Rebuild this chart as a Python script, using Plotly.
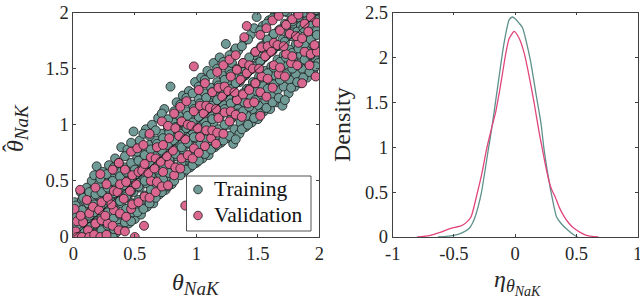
import plotly.graph_objects as go

# ---------------- scatter data ----------------
train_x = [
 0.01,0.00,0.02,0.01,0.03,0.04,
 0.05,0.06,0.05,0.07,0.04,0.06,
 0.10,0.11,0.09,0.12,0.10,0.11,
 0.15,0.16,0.14,0.15,0.17,0.16,0.15,
 0.20,0.21,0.19,0.22,0.20,0.21,0.19,
 0.25,0.26,0.24,0.26,0.25,0.27,0.24,
 0.30,0.31,0.29,0.31,0.30,0.32,0.29,
 0.35,0.36,0.34,0.36,0.35,0.37,0.34,
 0.40,0.41,0.39,0.41,0.40,0.42,0.39,
 0.45,0.46,0.44,0.46,0.45,0.47,0.44,
 0.50,0.51,0.49,0.51,0.50,0.52,0.49,
 0.55,0.56,0.54,0.56,0.55,0.57,0.54,
 0.60,0.61,0.59,0.61,0.60,0.62,0.59,
 0.65,0.66,0.64,0.66,0.65,0.67,0.64,
 0.70,0.71,0.69,0.71,0.70,0.72,0.69,
 0.75,0.76,0.74,0.76,0.75,0.77,0.74,
 0.80,0.81,0.79,0.81,0.80,0.82,0.79,
 0.85,0.86,0.84,0.86,0.85,0.87,0.84,
 0.90,0.91,0.89,0.91,0.90,0.92,0.89,
 0.95,0.96,0.94,0.96,0.95,0.97,0.94,
 1.00,1.01,0.99,1.01,1.00,1.02,0.99,
 1.05,1.06,1.04,1.06,1.05,1.07,1.04,
 1.10,1.11,1.09,1.11,1.10,1.12,1.09,
 1.15,1.16,1.14,1.16,1.15,1.17,1.14,
 1.20,1.21,1.19,1.21,1.20,1.22,1.19,
 1.25,1.26,1.24,1.26,1.25,1.27,1.24,
 1.30,1.31,1.29,1.31,1.30,1.32,1.29,1.31,
 1.35,1.36,1.34,1.36,1.35,1.37,1.34,
 1.40,1.41,1.39,1.41,1.40,1.42,1.39,
 1.45,1.46,1.44,1.46,1.45,1.47,1.44,
 1.50,1.51,1.49,1.51,1.50,1.52,1.49,
 1.55,1.56,1.54,1.56,1.55,1.57,1.54,
 1.60,1.61,1.59,1.61,1.60,1.62,1.59,
 1.65,1.66,1.64,1.66,1.65,1.67,1.64,
 1.70,1.71,1.69,1.71,1.70,1.72,1.69,
 1.75,1.76,1.74,1.76,1.75,1.77,1.74,
 1.80,1.81,1.79,1.81,1.80,1.82,1.79,
 1.85,1.86,1.84,1.86,1.85,1.87,1.84,
 1.90,1.91,1.89,1.91,1.90,1.92,1.89,
 1.95,1.96,1.94,1.96,1.95,1.97,1.94,
 1.99,2.00,1.98,2.00,
]
train_y = [
 0.02,0.12,0.22,0.31,0.07,0.17,
 0.00,0.10,0.21,0.33,0.27,0.40,
 0.01,0.07,0.17,0.26,0.36,0.44,
 0.00,0.08,0.15,0.24,0.33,0.42,0.50,
 0.02,0.11,0.19,0.28,0.37,0.47,0.63,
 0.00,0.07,0.16,0.27,0.38,0.49,0.58,
 0.03,0.12,0.22,0.31,0.41,0.52,0.64,
 0.04,0.15,0.27,0.37,0.47,0.58,0.70,
 0.09,0.19,0.30,0.41,0.51,0.62,0.80,
 0.12,0.24,0.35,0.45,0.55,0.66,0.78,
 0.16,0.27,0.40,0.50,0.60,0.71,0.94,
 0.20,0.32,0.44,0.55,0.66,0.78,0.86,
 0.27,0.36,0.48,0.60,0.71,0.82,0.96,
 0.30,0.42,0.53,0.64,0.75,0.86,1.00,
 0.38,0.46,0.58,0.70,0.80,0.92,1.06,
 0.42,0.52,0.63,0.75,0.86,0.97,1.14,
 0.47,0.56,0.68,0.80,0.90,1.02,1.34,
 0.57,0.60,0.72,0.84,0.95,1.07,1.20,
 0.58,0.66,0.78,0.90,1.01,1.12,1.26,
 0.62,0.72,0.83,0.95,1.06,1.18,1.30,
 0.66,0.76,0.88,1.00,1.11,1.23,1.38,
 0.70,0.80,0.92,1.04,1.16,1.28,1.42,
 0.73,0.86,0.97,1.10,1.22,1.33,1.48,
 0.80,0.90,1.02,1.14,1.26,1.38,1.55,
 0.84,0.95,1.07,1.20,1.31,1.44,1.60,
 0.88,1.00,1.12,1.24,1.37,1.48,1.72,
 0.83,0.96,1.06,1.18,1.30,1.42,1.55,1.66,
 0.92,1.02,1.14,1.26,1.38,1.50,1.66,
 0.98,1.08,1.20,1.32,1.44,1.56,1.75,
 1.02,1.14,1.26,1.38,1.50,1.62,1.80,
 1.05,1.17,1.30,1.43,1.55,1.68,1.96,
 1.12,1.22,1.35,1.48,1.60,1.74,1.88,
 1.14,1.26,1.40,1.52,1.66,1.79,1.93,
 1.20,1.31,1.44,1.58,1.71,1.84,1.98,
 1.17,1.34,1.48,1.62,1.76,1.90,2.02,
 1.28,1.40,1.54,1.67,1.80,1.93,2.00,
 1.34,1.45,1.58,1.72,1.85,1.97,1.90,
 1.37,1.50,1.63,1.76,1.88,2.00,1.70,
 1.42,1.55,1.68,1.80,1.93,2.02,1.60,
 1.48,1.60,1.72,1.85,1.96,1.66,1.78,
 1.55,1.70,1.84,1.96,
]
# second (interleaved) group of training points
train_x_b = [
 0.02,0.03,0.03,0.02,
 0.07,0.08,0.08,0.07,0.08,
 0.12,0.13,0.13,0.12,0.13,
 0.17,0.18,0.18,0.17,0.18,0.17,
 0.22,0.23,0.23,0.22,0.23,0.22,
 0.27,0.28,0.28,0.27,0.28,0.27,
 0.32,0.33,0.33,0.32,0.33,0.32,0.33,
 0.37,0.38,0.38,0.37,0.38,0.37,
 0.42,0.43,0.43,0.42,0.43,0.42,
 0.47,0.48,0.48,0.47,0.48,0.47,
 0.52,0.53,0.53,0.52,0.53,0.52,
 0.57,0.58,0.58,0.57,0.58,0.57,
 0.62,0.63,0.63,0.62,0.63,0.62,
 0.67,0.68,0.68,0.67,0.68,0.67,
 0.72,0.73,0.73,0.72,0.73,0.72,
 0.77,0.78,0.78,0.77,0.78,0.77,
 0.82,0.83,0.83,0.82,0.83,0.82,
 0.87,0.88,0.88,0.87,0.88,0.87,
 0.92,0.93,0.93,0.92,0.93,0.92,
 0.97,0.98,0.98,0.97,0.98,0.97,
 1.02,1.03,1.03,1.02,1.03,1.02,
 1.07,1.08,1.08,1.07,1.08,1.07,
 1.12,1.13,1.13,1.12,1.13,1.12,
 1.17,1.18,1.18,1.17,1.18,1.17,
 1.22,1.23,1.23,1.22,1.23,1.22,
 1.27,1.28,1.28,1.27,1.28,1.27,
 1.32,1.33,1.33,1.32,1.33,1.32,
 1.37,1.38,1.38,1.37,1.38,1.37,
 1.42,1.43,1.43,1.42,1.43,1.42,
 1.47,1.48,1.48,1.47,1.48,1.47,
 1.52,1.53,1.53,1.52,1.53,1.52,
 1.57,1.58,1.58,1.57,1.58,1.57,
 1.62,1.63,1.63,1.62,1.63,1.62,
 1.67,1.68,1.68,1.67,1.68,1.67,
 1.72,1.73,1.73,1.72,1.73,1.72,
 1.77,1.78,1.78,1.77,1.78,
 1.82,1.83,1.83,1.82,1.83,
 1.87,1.88,1.88,1.87,1.88,
 1.92,1.93,1.93,1.92,1.93,
 1.97,1.98,1.98,1.97,1.98,
]
train_y_b = [
 0.00,0.08,0.18,0.28,
 0.00,0.05,0.14,0.24,0.35,
 0.00,0.09,0.19,0.30,0.40,
 0.03,0.12,0.22,0.29,0.38,0.55,
 0.00,0.06,0.17,0.26,0.40,0.52,
 0.00,0.10,0.22,0.33,0.44,0.56,
 0.00,0.07,0.17,0.28,0.39,0.50,0.62,
 0.08,0.20,0.32,0.43,0.54,0.66,
 0.13,0.25,0.36,0.46,0.58,0.72,
 0.14,0.22,0.30,0.41,0.53,0.84,
 0.22,0.33,0.45,0.56,0.68,0.76,
 0.25,0.37,0.50,0.62,0.73,0.92,
 0.30,0.42,0.55,0.66,0.78,0.90,
 0.35,0.47,0.60,0.72,0.83,0.95,
 0.40,0.51,0.64,0.77,0.88,1.10,
 0.45,0.57,0.69,0.82,0.93,1.05,
 0.50,0.62,0.74,0.86,0.98,1.12,
 0.55,0.66,0.80,0.92,1.03,1.18,
 0.60,0.71,0.84,0.97,1.08,1.24,
 0.64,0.77,0.89,1.02,1.14,1.28,
 0.68,0.82,0.94,1.07,1.19,1.34,
 0.74,0.87,0.99,1.12,1.24,1.40,
 0.78,0.91,1.05,1.17,1.29,1.45,
 0.82,0.96,1.09,1.22,1.35,1.50,
 0.86,1.00,1.14,1.27,1.40,1.56,
 0.90,1.05,1.19,1.32,1.45,1.62,
 0.87,1.10,1.23,1.37,1.50,1.68,
 0.96,1.12,1.28,1.42,1.55,1.70,
 1.00,1.16,1.32,1.47,1.60,1.76,
 1.06,1.22,1.37,1.52,1.65,1.86,
 1.10,1.27,1.42,1.56,1.70,1.84,
 1.15,1.32,1.46,1.62,1.76,1.90,
 1.20,1.36,1.51,1.66,1.81,1.95,
 1.24,1.40,1.56,1.70,1.85,1.99,
 1.22,1.45,1.60,1.74,1.88,2.01,
 1.33,1.50,1.64,1.79,1.92,
 1.38,1.54,1.68,1.83,1.96,
 1.42,1.58,1.72,1.86,2.00,
 1.47,1.62,1.76,1.90,2.01,
 1.52,1.66,1.80,1.94,2.02,
]

val_x = [
 0.02,0.03,0.01,0.03,
 0.07,0.08,0.06,0.055,
 0.12,0.13,0.11,0.13,
 0.17,0.18,0.16,0.18,
 0.22,0.23,0.21,0.23,0.22,
 0.27,0.28,0.26,0.28,0.27,
 0.32,0.33,0.31,0.33,0.32,
 0.37,0.38,0.36,0.38,0.37,
 0.42,0.43,0.41,0.43,0.42,
 0.47,0.48,0.46,0.48,0.47,
 0.50,0.53,0.51,0.53,0.52,
 0.575,0.58,0.56,0.58,0.57,
 0.62,0.63,0.61,0.63,0.62,
 0.67,0.68,0.66,0.68,0.67,
 0.72,0.73,0.71,0.73,0.72,
 0.77,0.78,0.76,0.78,0.77,
 0.82,0.83,0.81,0.83,0.82,
 0.87,0.88,0.86,0.88,0.87,
 0.91,0.93,0.91,0.93,0.92,
 0.97,0.98,0.96,0.98,0.98,
 1.02,1.03,1.01,1.03,1.02,
 1.07,1.08,1.06,1.08,1.07,
 1.12,1.13,1.11,1.13,1.16,
 1.17,1.18,1.16,1.18,1.17,
 1.22,1.23,1.21,1.23,1.22,
 1.27,1.28,1.26,1.28,1.27,
 1.32,1.33,1.31,1.33,1.32,
 1.37,1.38,1.36,1.38,1.39,
 1.42,1.43,1.41,1.43,1.41,
 1.47,1.48,1.46,1.48,1.52,
 1.52,1.53,1.51,1.53,1.52,
 1.57,1.58,1.56,1.58,1.57,
 1.62,1.63,1.61,1.63,1.62,
 1.67,1.68,1.66,1.68,1.67,
 1.72,1.73,1.71,1.73,
 1.77,1.78,1.76,1.78,
 1.82,1.83,1.81,1.83,
 1.86,1.88,1.86,1.88,
 1.92,1.93,1.91,1.93,
 1.97,1.98,1.96,1.98,
]
val_y = [
 0.05,0.14,0.25,0.00,
 0.00,0.13,0.19,0.42,
 0.06,0.21,0.33,0.00,
 0.02,0.12,0.27,0.44,
 0.00,0.15,0.24,0.31,0.56,
 0.02,0.12,0.19,0.35,0.47,
 0.10,0.24,0.29,0.41,0.60,
 0.06,0.21,0.40,0.47,0.66,
 0.05,0.18,0.34,0.49,0.60,
 0.25,0.29,0.41,0.55,0.76,
 0.00,0.31,0.47,0.58,0.79,
 0.10,0.36,0.59,0.65,0.82,
 0.35,0.50,0.57,0.71,0.92,
 0.40,0.49,0.61,0.80,0.70,
 0.45,0.58,0.67,0.82,1.03,
 0.46,0.65,0.72,0.88,0.99,
 0.55,0.62,0.77,0.97,1.10,
 0.61,0.70,0.90,1.03,1.16,
 0.28,0.73,0.87,1.00,1.21,
 0.70,0.79,0.99,1.12,1.52,
 0.75,0.89,0.97,1.17,1.31,
 0.81,0.95,1.10,1.17,1.37,
 0.88,0.95,1.15,1.29,0.83,
 0.93,1.06,1.14,1.33,1.47,
 0.92,1.11,1.25,1.34,1.53,
 1.03,1.12,1.30,1.43,1.58,
 1.09,1.22,1.29,1.49,1.62,
 1.07,1.27,1.40,1.55,1.78,
 1.19,1.31,1.46,1.53,1.88,
 1.20,1.37,1.50,1.65,1.08,
 1.29,1.43,1.50,1.69,1.80,
 1.25,1.41,1.61,1.70,1.86,
 1.33,1.53,1.65,1.73,1.93,
 1.45,1.51,1.71,1.84,1.97,
 1.43,1.63,1.70,1.89,
 1.55,1.61,1.81,1.94,
 1.53,1.73,1.79,1.98,
 1.37,1.65,1.77,1.90,
 1.53,1.63,1.83,1.96,
 1.43,1.65,1.71,1.91,
]

diag_x = [0, 2]
diag_y = [0, 2]

# ---------------- density data ----------------
dens_train_x = [-0.63,-0.50,-0.43,-0.375,-0.35,-0.327,-0.277,-0.22,-0.204,-0.185,-0.158,-0.131,-0.104,-0.076,-0.049,-0.022,
                0.0,0.033,0.06,0.087,0.128,0.169,0.21,0.236,0.277,0.30,0.337,0.373,0.413,0.48,0.51]
dens_train_y = [0.0,0.019,0.048,0.097,0.15,0.226,0.487,0.97,1.10,1.27,1.53,1.79,2.05,2.27,2.42,2.45,
                2.43,2.38,2.33,2.196,1.94,1.60,1.27,0.97,0.616,0.449,0.226,0.153,0.097,0.022,0.0]
dens_val_x = [-0.80,-0.70,-0.62,-0.525,-0.443,-0.40,-0.36,-0.31,-0.27,-0.235,-0.195,-0.158,-0.131,-0.104,-0.076,-0.049,-0.008,
              0.033,0.073,0.114,0.155,0.196,0.223,0.25,0.277,0.30,0.326,0.36,0.40,0.44,0.48,0.575,0.68]
dens_val_y = [0.0,0.015,0.048,0.097,0.123,0.16,0.226,0.487,0.72,0.97,1.20,1.40,1.60,1.82,2.05,2.21,2.29,
              2.21,2.05,1.79,1.49,1.16,0.97,0.78,0.616,0.52,0.449,0.33,0.226,0.15,0.097,0.022,0.0]

ticks_main = [0, 0.5, 1, 1.5, 2]
tick_text_main = ["0", "0.5", "1", "1.5", "2"]
ticks_eta = [-1, -0.5, 0, 0.5, 1]
tick_text_eta = ["-1", "-0.5", "0", "0.5", "1"]
ticks_dens = [0, 0.5, 1, 1.5, 2, 2.5]
tick_text_dens = ["0", "0.5", "1", "1.5", "2", "2.5"]
legend_names = ["Training", "Validation"]

C_TRAIN = "#6F9A96"
C_VAL = "#D9678F"
L_TRAIN = "#5E918C"
L_VAL = "#E0467C"
EDGE = "#1a1a1a"
FONT = "Liberation Serif"
TXT = "#262626"

W, H = 640, 298
def px(x):
    return x / W
def py(y):
    return (H - y) / H

fig = go.Figure()
fig.add_trace(go.Scatter(x=train_x + train_x_b, y=train_y + train_y_b, mode="markers", name=legend_names[0],
                         showlegend=False,
                         marker=dict(size=9, color=C_TRAIN, line=dict(color=EDGE, width=0.8)),
                         xaxis="x", yaxis="y"))
fig.add_trace(go.Scatter(x=val_x, y=val_y, mode="markers", name=legend_names[1], showlegend=False,
                         marker=dict(size=9, color=C_VAL, line=dict(color=EDGE, width=0.8)),
                         xaxis="x", yaxis="y"))
fig.add_trace(go.Scatter(x=diag_x, y=diag_y, mode="lines", showlegend=False,
                         line=dict(color="black", width=0.7), xaxis="x", yaxis="y"))
fig.add_trace(go.Scatter(x=dens_train_x, y=dens_train_y, mode="lines", showlegend=False,
                         line=dict(color=L_TRAIN, width=1.3, shape="spline", smoothing=0.6),
                         xaxis="x2", yaxis="y2"))
fig.add_trace(go.Scatter(x=dens_val_x, y=dens_val_y, mode="lines", showlegend=False,
                         line=dict(color=L_VAL, width=1.3, shape="spline", smoothing=0.6),
                         xaxis="x2", yaxis="y2"))

ax_common = dict(showline=True, linecolor="#404040", linewidth=0.9, mirror="ticks",
                 ticks="inside", ticklen=3, tickcolor="#404040", tickwidth=0.9,
                 showgrid=False, zeroline=False, automargin=False, ticklabeloverflow="allow",
                 tickfont=dict(family=FONT, size=18.5, color=TXT))

# legend box (drawn by hand to match compact layout)
lg_x0, lg_x1, lg_y0, lg_y1 = 186.5, 311, 176, 231
shapes = [
    dict(type="rect", xref="paper", yref="paper", x0=px(lg_x0), x1=px(lg_x1), y0=py(lg_y1), y1=py(lg_y0),
         fillcolor="white", line=dict(color=TXT, width=0.8), layer="above"),
]
for i, col in enumerate([C_TRAIN, C_VAL]):
    cy = 189.5 + i * 26
    shapes.append(dict(type="circle", xref="paper", yref="paper", xsizemode="pixel", ysizemode="pixel",
                       xanchor=px(198), yanchor=py(cy), x0=-4.3, x1=4.3, y0=-4.3, y1=4.3,
                       fillcolor=col, line=dict(color=EDGE, width=0.8), layer="above"))

sub = lambda s, fs: f"<sub><span style='font-size:{fs}px'><i>{s}</i></span></sub>"

annotations = [
    dict(text=legend_names[0], x=px(212), y=py(188.5), xanchor="left", yanchor="middle"),
    dict(text=legend_names[1], x=px(212), y=py(214.5), xanchor="left", yanchor="middle"),
]
for a in annotations:
    a.update(xref="paper", yref="paper", showarrow=False, font=dict(family=FONT, size=21.5, color="#111111"))

annotations += [
    dict(text="<i>θ</i>" + sub("NaK", 19), x=px(196), y=py(284), xref="paper", yref="paper",
         showarrow=False, font=dict(family=FONT, size=24, color=TXT), xanchor="center", yanchor="middle"),
    dict(text="<i>θ</i>" + sub("NaK", 19), x=px(17), y=py(128), xref="paper", yref="paper",
         showarrow=False, textangle=-90, font=dict(family=FONT, size=24, color=TXT),
         xanchor="center", yanchor="middle"),
    dict(text="ˆ", x=px(11), y=py(148), xref="paper", yref="paper",
         showarrow=False, textangle=-90, font=dict(family=FONT, size=24, color=TXT),
         xanchor="center", yanchor="middle"),
    dict(text="Density", x=px(342), y=py(125), xref="paper", yref="paper",
         showarrow=False, textangle=-90, font=dict(family=FONT, size=24, color=TXT),
         xanchor="center", yanchor="middle"),
    dict(text="<i>η</i><sub><span style='font-size:18px'><i>θ</i></span><sub><span style='font-size:14px'><i>NaK</i></span></sub></sub>",
         x=px(517), y=py(282), xref="paper", yref="paper", showarrow=False,
         font=dict(family=FONT, size=24, color=TXT), xanchor="center", yanchor="middle"),
]

fig.update_layout(
    template="none",
    width=W, height=H,
    margin=dict(l=0, r=0, t=0, b=0, pad=0, autoexpand=False),
    paper_bgcolor="white", plot_bgcolor="white",
    font=dict(family=FONT, color=TXT),
    xaxis=dict(domain=[0.1145, 0.4990], range=[0, 2], tickvals=ticks_main, ticktext=tick_text_main,
               anchor="y", **ax_common),
    yaxis=dict(domain=[0.2047, 0.958], range=[0, 2], tickvals=ticks_main, ticktext=tick_text_main,
               anchor="x", **ax_common),
    xaxis2=dict(domain=[0.6136, 0.9964], range=[-1, 1], tickvals=ticks_eta, ticktext=tick_text_eta,
                anchor="y2", **ax_common),
    yaxis2=dict(domain=[0.2047, 0.958], range=[0, 2.5], tickvals=ticks_dens, ticktext=tick_text_dens,
                anchor="x2", **ax_common),
    showlegend=False,
    shapes=shapes,
    annotations=annotations,
)

fig.write_html("out.html", config={"displayModeBar": False},
               post_script="document.body.style.margin='0';document.body.style.overflow='hidden';")
